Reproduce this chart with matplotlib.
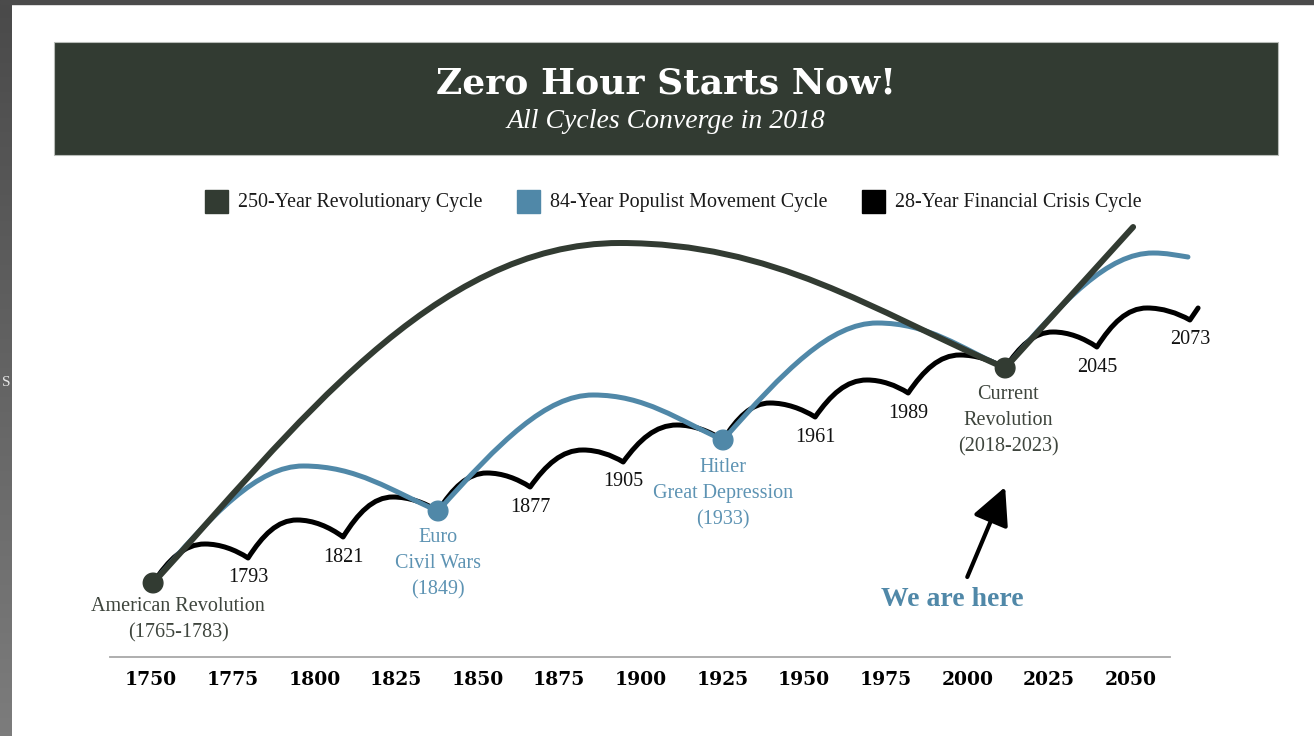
import matplotlib
matplotlib.use("Agg")
import numpy as np
import matplotlib.pyplot as plt
from matplotlib.path import Path
from matplotlib.patches import PathPatch, Rectangle

DARK = "#323b32"
BLUE = "#5088a8"
BLUE_TXT = "#5d93b3"
GREY_TXT = "#3e453d"
SERIF = "Liberation Serif"

# --- data (x = year axis position, y = cycle level, arbitrary units)
# 250-year revolutionary cycle: start, top, current revolution, end
rev_x = [1750.6, 1893.6, 2011.6, 2050.8]
rev_y = [74, 414, 289, 430]

# 84-year populist cycle: troughs, crests, end of line
pop_low_x = [1750.6, 1837.9, 1925.2, 2011.6]
pop_low_y = [74, 146, 217, 289]
pop_peak_x = [1796.6, 1885.4, 1972.4, 2056.9]
pop_peak_y = [191, 262, 334, 404]
pop_end_x, pop_end_y = 2067.6, 400

# 28-year financial crisis cycle
fin_low_x = [1750.6, 1779.7, 1808.8, 1837.9, 1866.1, 1894.6, 1925.2,
             1953.4, 1981.9, 2011.6, 2039.7, 2068.2]
fin_low_y = [74, 99, 120, 146, 170, 195, 217, 240, 264, 289, 310, 337]
fin_peak_x = [1766.5, 1794.7, 1824.1, 1852.9, 1882.3, 1911.1, 1939.6,
              1969.3, 1997.8, 2026.3, 2055.1]
fin_peak_y = [113, 137, 160, 184, 207, 232, 254, 277, 302, 325, 349]
fin_end_x, fin_end_y = 2070.7, 349
fin_labels = ["1793", "1821", "1877", "1905", "1961", "1989", "2045", "2073"]
fin_label_idx = [1, 2, 4, 5, 7, 8, 10, 11]

# turning points with a marker
event_x = [1750.6, 1837.9, 1925.2, 2011.6]
event_y = [74, 146, 217, 289]
event_color = [DARK, BLUE, BLUE, DARK]
event_text = ["American Revolution\n(1765-1783)", "Euro\nCivil Wars\n(1849)",
              "Hitler\nGreat Depression\n(1933)", "Current\nRevolution\n(2018-2023)"]
event_text_x = [1758.3, 1837.9, 1925.2, 2012.5]
event_text_y = [37, 93, 163, 236]
event_text_color = [GREY_TXT, BLUE_TXT, BLUE_TXT, GREY_TXT]

year_ticks = list(range(1750, 2051, 25))

legend_labels = ["250-Year Revolutionary Cycle", "84-Year Populist Movement Cycle",
                 "28-Year Financial Crisis Cycle"]
legend_colors = [DARK, BLUE, "black"]


def arc(verts, codes, A, P, B, rise, fall):
    """append a rise A->P and fall P->B as two cubic beziers"""
    dx1, dy1 = P[0] - A[0], P[1] - A[1]
    dx2, dy2 = B[0] - P[0], P[1] - B[1]
    if not verts:
        verts.append(A)
        codes.append(Path.MOVETO)
    verts += [(A[0] + rise[0] * dx1, A[1] + rise[1] * dy1),
              (P[0] - rise[2] * dx1, P[1]), P,
              (P[0] + fall[0] * dx2, P[1]),
              (B[0] - fall[1] * dx2, B[1] + fall[2] * dy2), B]
    codes += [Path.CURVE4] * 6


fig = plt.figure(figsize=(13.14, 7.36), dpi=100)
W, H = 1314, 736

# screenshot frame
fig.patches.append(Rectangle((0, 1 - 4 / H), 1, 4 / H, transform=fig.transFigure,
                             color="#4b4b4b", zorder=0))
gax = fig.add_axes([0, 0, 12 / W, 1])
gax.imshow(np.linspace(0, 1, 200).reshape(-1, 1), cmap=matplotlib.colors.LinearSegmentedColormap.from_list(
    "g", ["#4a4a4a", "#7c7c7c"]), aspect="auto")
gax.axis("off")
fig.text(6 / W, 1 - 382 / H, "S", ha="center", va="center", fontsize=11, color="#e6e6e6",
         family=SERIF)

# title banner
fig.patches.append(Rectangle((54 / W, 1 - 155 / H), 1224 / W, 113 / H, transform=fig.transFigure,
                             facecolor=DARK, edgecolor="#b8bcb8", lw=0.8, zorder=1))
fig.text(666 / W, 1 - 83 / H, "Zero Hour Starts Now!", ha="center", va="center",
         fontsize=26, fontweight="bold", family="DejaVu Serif", color="white", zorder=2)
fig.text(666 / W, 1 - 122 / H, "All Cycles Converge in 2018", ha="center", va="center",
         fontsize=20, style="italic", family=SERIF, color="white", zorder=2)

# legend
sq_x = [205, 517, 862]
for x0, lab, col in zip(sq_x, legend_labels, legend_colors):
    fig.patches.append(Rectangle((x0 / W, 1 - 213 / H), 23 / W, 23 / H,
                                 transform=fig.transFigure, color=col))
    fig.text((x0 + 33) / W, 1 - 202 / H, lab, ha="left", va="center",
             fontsize=14.4, family=SERIF, color="#1a1a1a")

ax = fig.add_axes([110 / W, 79 / H, 1060 / W, 437 / H])
ax.set_xlim(1737.4, 2062.1)
ax.set_ylim(0, 437)
for s in ["top", "right", "left"]:
    ax.spines[s].set_visible(False)
ax.spines["bottom"].set_color("#a8a8a8")
ax.spines["bottom"].set_linewidth(1.3)
ax.set_yticks([])
ax.set_xticks(year_ticks)
ax.set_xticklabels([str(y) for y in year_ticks], fontsize=13.5, fontweight="bold",
                   family="DejaVu Serif")
ax.tick_params(axis="x", length=0, pad=10)

# 28-year line
v, c = [], []
for i in range(len(fin_peak_x)):
    arc(v, c, (fin_low_x[i], fin_low_y[i]), (fin_peak_x[i], fin_peak_y[i]),
        (fin_low_x[i + 1], fin_low_y[i + 1]), (0.3, 0.6, 0.4), (0.35, 0.3, 0.6))
v.append((fin_end_x, fin_end_y))
c.append(Path.LINETO)
ax.add_patch(PathPatch(Path(v, c), fill=False, ec="black", lw=3.6, capstyle="round",
                       joinstyle="round", clip_on=False, zorder=2))

# 84-year line
v, c = [], []
for i in range(len(pop_peak_x)):
    nxt = (pop_low_x[i + 1], pop_low_y[i + 1]) if i + 1 < len(pop_low_x) else (pop_end_x, pop_end_y)
    arc(v, c, (pop_low_x[i], pop_low_y[i]), (pop_peak_x[i], pop_peak_y[i]), nxt,
        (0.4, 0.6, 0.3), (0.4, 0.35, 0.45))
ax.add_patch(PathPatch(Path(v, c), fill=False, ec=BLUE, lw=3.6, capstyle="round",
                       joinstyle="round", clip_on=False, zorder=3))

# 250-year line
v, c = [], []
arc(v, c, (rev_x[0], rev_y[0]), (rev_x[1], rev_y[1]), (rev_x[2], rev_y[2]),
    (0.3, 0.45, 0.4), (0.4, 0.35, 0.47))
v.append((rev_x[3], rev_y[3]))
c.append(Path.LINETO)
ax.add_patch(PathPatch(Path(v, c), fill=False, ec=DARK, lw=4.3, capstyle="round",
                       joinstyle="round", clip_on=False, zorder=4))

# markers and event labels
ax.scatter(event_x, event_y, s=200, c=event_color, zorder=5, clip_on=False)
for x, y, t, col in zip(event_text_x, event_text_y, event_text, event_text_color):
    ax.text(x, y, t, ha="center", va="center", fontsize=14.5, family=SERIF, color=col,
            linespacing=1.5)

for lab, i in zip(fin_labels, fin_label_idx):
    ax.text(fin_low_x[i], fin_low_y[i] - 20, lab, ha="center", va="center",
            fontsize=14.5, family=SERIF, color="#111111")

# we are here
ax.annotate("", xy=(2011.6, 170), xytext=(2000.0, 80),
            arrowprops=dict(arrowstyle="-|>,head_length=1.2,head_width=0.6", lw=3,
                            color="black", mutation_scale=19, shrinkA=0, shrinkB=0))
ax.text(1995.4, 58, "We are here", ha="center", va="center", fontsize=20,
        fontweight="bold", family=SERIF, color=BLUE)

fig.savefig("out.png", dpi=100)
